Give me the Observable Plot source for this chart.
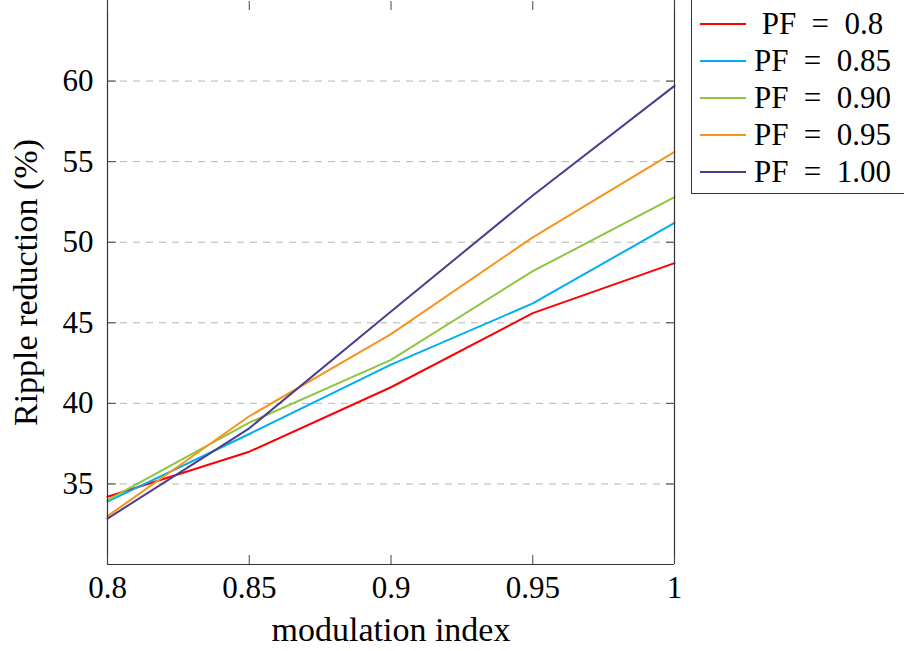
<!DOCTYPE html>
<html>
<head>
<meta charset="utf-8">
<script src="https://cdn.jsdelivr.net/npm/d3@7"></script>
<script src="https://cdn.jsdelivr.net/npm/@observablehq/plot@0.6"></script>
<style>
  html, body { margin: 0; padding: 0; background: #fff; }
  #wrap { position: relative; width: 904px; height: 651px; overflow: hidden; font-family: "Liberation Serif", "DejaVu Serif", serif; }
  #wrap svg text { font-family: "Liberation Serif", "DejaVu Serif", serif; }
  #legend { position: absolute; left: 691px; top: -12px; width: 240px; height: 206px; border: 1px solid #333; box-sizing: border-box; background: #fff; }
  .row { position: absolute; left: 0; height: 37px; display: flex; align-items: center; }
  .row svg { margin-left: 8px; }
  .row span { display: inline-block; width: 141px; text-align: center; font-size: 31px; color: #000; margin-left: 6px; white-space: pre; }
</style>
</head>
<body>
<div id="wrap"></div>
<script>
const modIndex = [0.8, 0.85, 0.9, 0.95, 1];
const seriesNames = ["PF = 0.8", "PF = 0.85", "PF = 0.90", "PF = 0.95", "PF = 1.00"];
const seriesColors = ["#ff0000", "#00aeef", "#8cc63f", "#f7941d", "#4b3d8f"];
const pf080 = [34.2, 37.0, 41.0, 45.6, 48.7];
const pf085 = [33.9, 38.1, 42.4, 46.2, 51.2];
const pf090 = [34.0, 38.8, 42.7, 48.2, 52.8];
const pf095 = [33.0, 39.2, 44.3, 50.3, 55.6];
const pf100 = [32.85, 38.45, 45.7, 52.9, 59.7];
const yTicks = [35, 40, 45, 50, 55, 60];
const xTicks = [0.8, 0.85, 0.9, 0.95, 1];
const xTickLabels = ["0.8", "0.85", "0.9", "0.95", "1"];

const allSeries = [pf080, pf085, pf090, pf095, pf100];
const rows = [];
allSeries.forEach((vals, i) => vals.forEach((v, j) => rows.push({m: modIndex[j], r: v, s: seriesNames[i]})));

const font = "Liberation Serif, DejaVu Serif, serif";
const plot = Plot.plot({
  width: 904,
  height: 651,
  marginLeft: 107,
  marginRight: 230,
  marginTop: 0,
  marginBottom: 87,
  style: {fontFamily: font, fontSize: "31px", color: "#000", background: "transparent"},
  x: {domain: [0.8, 1]},
  y: {domain: [30, 65]},
  color: {domain: seriesNames, range: seriesColors},
  marks: [
    Plot.gridY(yTicks, {stroke: "#b5b5b5", strokeOpacity: 1, strokeWidth: 1, strokeDasharray: "7,6"}),
    Plot.line(rows, {x: "m", y: "r", z: "s", stroke: "s", strokeWidth: 2}),
    Plot.ruleX([0.8, 1], {stroke: "#333", strokeWidth: 1.2}),
    Plot.ruleY([30], {stroke: "#333", strokeWidth: 1.2}),
    Plot.axisY(yTicks, {anchor: "left", tickSize: -9, tickPadding: 23, stroke: "#444", fontSize: 31, label: null}),
    Plot.axisY(yTicks, {anchor: "left", tickSize: 0, stroke: "none", fill: "#000", fontSize: 34, tickFormat: () => "", label: "Ripple reduction (%)", labelAnchor: "center", labelArrow: "none", labelOffset: 95}),
    Plot.axisY(yTicks, {anchor: "right", tickSize: -9, stroke: "#444", fill: "none", label: null}),
    Plot.axisX(xTicks, {anchor: "bottom", tickSize: -9, tickPadding: 20, stroke: "#444", fontSize: 31, tickFormat: (d, i) => xTickLabels[i], label: null}),
    Plot.axisX(xTicks, {anchor: "bottom", tickSize: 0, stroke: "none", fill: "#000", fontSize: 34, tickFormat: () => "", label: "modulation index", labelAnchor: "center", labelArrow: "none", labelOffset: 76}),
    Plot.axisX(xTicks, {anchor: "top", tickSize: -9, stroke: "#444", fill: "none", label: null})
  ]
});
const wrap = document.getElementById("wrap");
wrap.appendChild(plot);

const legend = document.createElement("div");
legend.id = "legend";
seriesNames.forEach((name, i) => {
  const row = document.createElement("div");
  row.className = "row";
  row.style.top = (12 + 4 + i * 37.2) + "px";
  const svg = d3.create("svg").attr("width", 46).attr("height", 6);
  svg.append("line").attr("x1", 0).attr("x2", 46).attr("y1", 3).attr("y2", 3).attr("stroke", seriesColors[i]).attr("stroke-width", 2);
  row.appendChild(svg.node());
  const span = document.createElement("span");
  span.textContent = name.replace(/ = /, "\u2002=\u2002");
  row.appendChild(span);
  legend.appendChild(row);
});
wrap.appendChild(legend);
</script>
</body>
</html>
